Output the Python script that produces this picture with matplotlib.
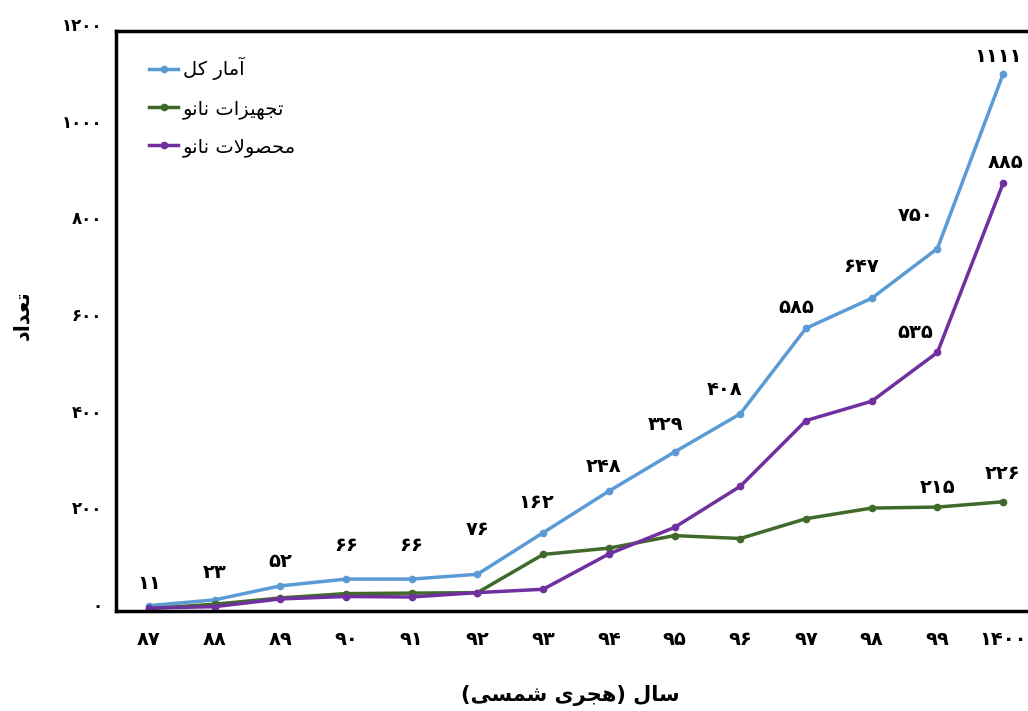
import matplotlib.pyplot as plt
from matplotlib.transforms import ScaledTranslation

# data
years = ['87', '88', '89', '90', '91', '92', '93', '94', '95', '96', '97', '98', '99', '1400']
total = [11, 23, 52, 66, 66, 76, 162, 248, 329, 408, 585, 647, 750, 1111]
equipment = [5, 14, 27, 36, 37, 38, 117, 130, 156, 150, 191, 213, 215, 226]
products = [6, 9, 25, 30, 29, 38, 45, 118, 173, 258, 394, 434, 535, 885]
yticks = [0, 200, 400, 600, 800, 1000, 1200]

FA_DIGITS = str.maketrans('0123456789', '۰۱۲۳۴۵۶۷۸۹')

# minimal arabic/persian shaping (iso, fin, ini, med)
FORMS = {
    'آ': ('\uFE81', '\uFE82', None, None),
    'ا': ('\uFE8D', '\uFE8E', None, None),
    'ر': ('\uFEAD', '\uFEAE', None, None),
    'ز': ('\uFEAF', '\uFEB0', None, None),
    'د': ('\uFEA9', '\uFEAA', None, None),
    'و': ('\uFEED', '\uFEEE', None, None),
    'م': ('\uFEE1', '\uFEE2', '\uFEE3', '\uFEE4'),
    'ک': ('\uFB8E', '\uFB8F', '\uFB90', '\uFB91'),
    'ل': ('\uFEDD', '\uFEDE', '\uFEDF', '\uFEE0'),
    'ت': ('\uFE95', '\uFE96', '\uFE97', '\uFE98'),
    'ج': ('\uFE9D', '\uFE9E', '\uFE9F', '\uFEA0'),
    'ه': ('\uFEE9', '\uFEEA', '\uFEEB', '\uFEEC'),
    'ی': ('\uFBFC', '\uFBFD', '\uFBFE', '\uFBFF'),
    'ن': ('\uFEE5', '\uFEE6', '\uFEE7', '\uFEE8'),
    'ح': ('\uFEA1', '\uFEA2', '\uFEA3', '\uFEA4'),
    'ص': ('\uFEB9', '\uFEBA', '\uFEBB', '\uFEBC'),
    'س': ('\uFEB1', '\uFEB2', '\uFEB3', '\uFEB4'),
    'ش': ('\uFEB5', '\uFEB6', '\uFEB7', '\uFEB8'),
    'ع': ('\uFEC9', '\uFECA', '\uFECB', '\uFECC'),
}


def dual(c):
    return c in FORMS and FORMS[c][2] is not None


def shape(text):
    out = []
    i = 0
    n = len(text)
    while i < n:
        c = text[i]
        if c not in FORMS:
            out.append(c)
            i += 1
            continue
        prev_join = i > 0 and dual(text[i - 1])
        if c == 'ل' and i + 1 < n and text[i + 1] == 'ا':
            out.append('\uFEFC' if prev_join else '\uFEFB')
            i += 2
            continue
        next_join = dual(c) and i + 1 < n and text[i + 1] in FORMS
        iso, fin, ini, med = FORMS[c]
        if prev_join and next_join:
            out.append(med)
        elif prev_join:
            out.append(fin)
        elif next_join:
            out.append(ini)
        else:
            out.append(iso)
        i += 1
    vis = ''.join(reversed(out))
    return vis.translate(str.maketrans('()', ')('))


blue = '#5B9BD5'
green = '#3F6A2A'
purple = '#7030A0'

fig = plt.figure(figsize=(10.28, 7.11), dpi=100)
ax = fig.add_axes([116 / 1028, 100 / 711, 920 / 1028, 580 / 711])

x = list(range(len(years)))
ax.plot(x, total, color=blue, lw=2.5, marker='o', ms=4.5, label=shape('آمار کل'))
ax.plot(x, equipment, color=green, lw=2.5, marker='o', ms=4.5, label=shape('تجهیزات نانو'))
ax.plot(x, products, color=purple, lw=2.5, marker='o', ms=4.5, label=shape('محصولات نانو'))

ax.set_xlim(-0.5, len(years) - 0.5)
ax.set_ylim(0, 1200)
ax.set_xticks(x)
ax.set_xticklabels([y.translate(FA_DIGITS) for y in years], fontsize=14, fontweight='bold')
ax.set_yticks(yticks)
ax.set_yticklabels([str(v).translate(FA_DIGITS) for v in yticks], fontsize=12, fontweight='bold')
ax.tick_params(axis='both', length=0)
ax.tick_params(axis='x', pad=14)
ax.tick_params(axis='y', pad=10)
for lab in ax.get_yticklabels():
    lab.set_transform(lab.get_transform() + ScaledTranslation(0, 7 / 100, fig.dpi_scale_trans))

for s in ax.spines.values():
    s.set_linewidth(2.5)
    s.set_color('black')

# data labels (pixel offsets from each point)
blue_off = [(0, 22), (0, 27), (0, 24), (0, 34), (0, 34), (0, 45), (-7, 30),
            (-5, 25), (-9, 27), (-16, 24), (-10, 21), (-11, 32), (-22, 33), (-5, 18)]
lab_kw = dict(textcoords='offset pixels', ha='center', va='center', fontsize=14, fontweight='bold')
for i, v in enumerate(total):
    ax.annotate(str(v).translate(FA_DIGITS), (i, v), xytext=blue_off[i], **lab_kw)
ax.annotate(str(products[12]).translate(FA_DIGITS), (12, products[12]), xytext=(-22, 20), **lab_kw)
ax.annotate(str(products[13]).translate(FA_DIGITS), (13, products[13]), xytext=(2, 21), **lab_kw)
ax.annotate(str(equipment[12]).translate(FA_DIGITS), (12, equipment[12]), xytext=(0, 20), **lab_kw)
ax.annotate(str(equipment[13]).translate(FA_DIGITS), (13, equipment[13]), xytext=(0, 28), **lab_kw)

ax.set_xlabel(shape('سال (هجری شمسی)'), fontsize=15, fontweight='bold')
ax.xaxis.label.set_va('center')
ax.xaxis.set_label_coords((570 - 116) / 920, -(695 - 611) / 580)
fig.text(22 / 1028, 1 - 315 / 711, shape('تعداد'), rotation=90, ha='center', va='center',
         fontsize=15, fontweight='bold')

ax.legend(loc='upper left', bbox_to_anchor=(0.017, 0.985), frameon=False, fontsize=14,
          handlelength=1.5, handletextpad=0.25, labelspacing=0.95)

fig.savefig('out.png', dpi=100)
